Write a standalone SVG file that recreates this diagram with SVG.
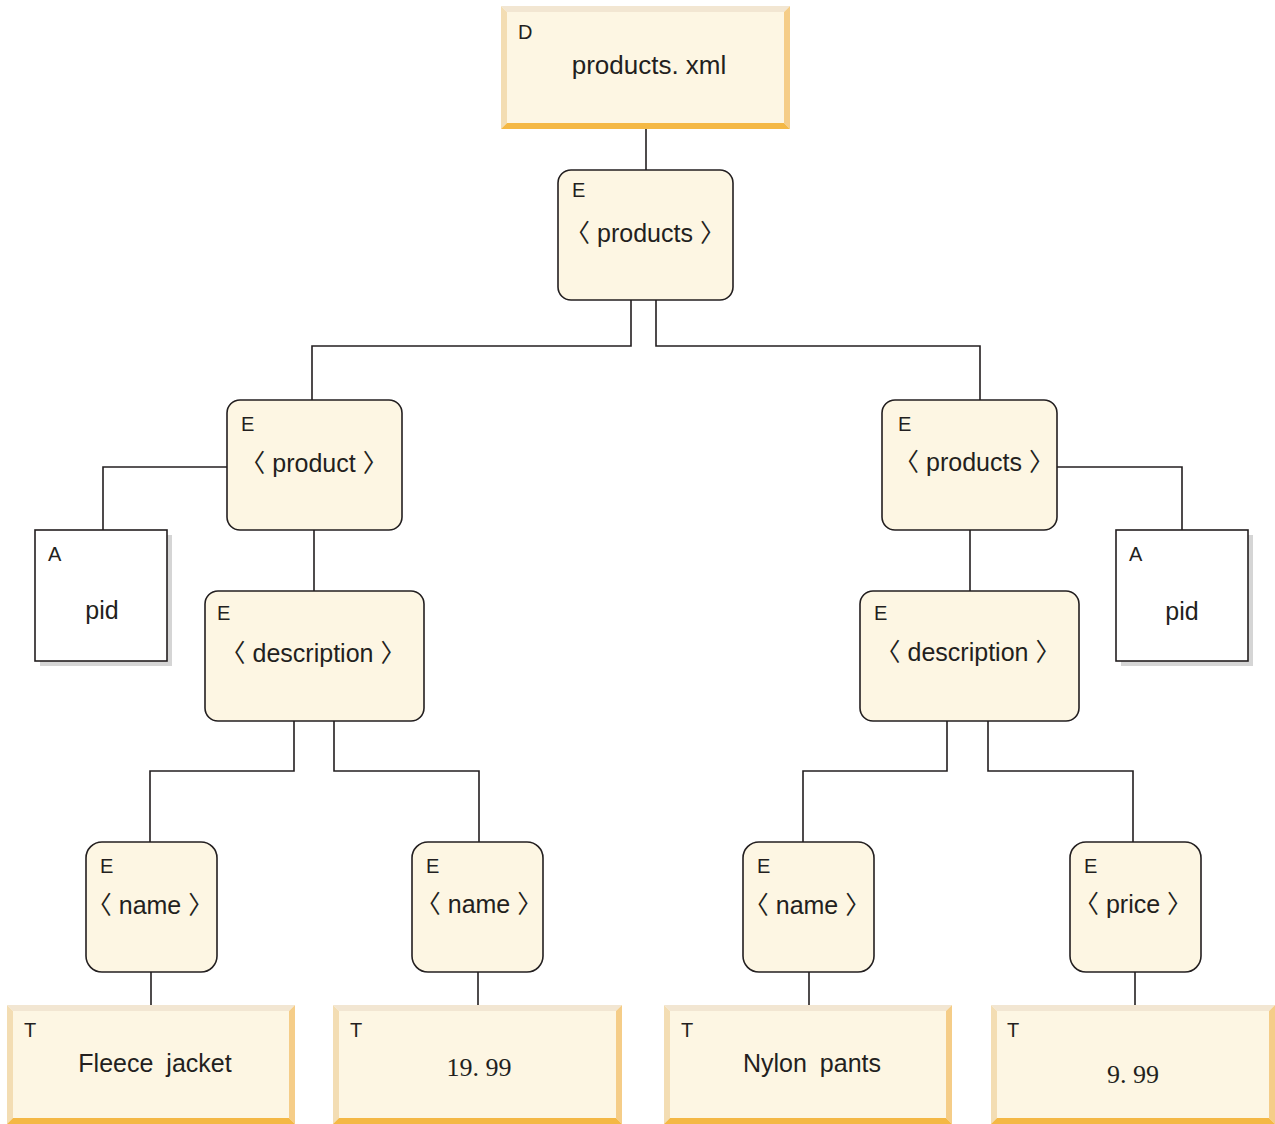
<svg xmlns="http://www.w3.org/2000/svg" width="1275" height="1124" viewBox="0 0 1275 1124">
<style>
.bt{fill:#F2E6D2}.bl{fill:#F3DDB3}.br{fill:#F5CD88}.bb{fill:#F4B845}.in{fill:#FDF6E3}
.e{fill:#FDF6E3;stroke:#231f20;stroke-width:1.6}
.a{fill:#ffffff;stroke:#231f20;stroke-width:1.6}
.sh{fill:#d5d5d5}
.k{font-family:"Liberation Sans",Arial,sans-serif;font-size:20px;fill:#231f20}
.m{font-family:"Liberation Sans",Arial,"Noto Sans CJK SC",sans-serif;font-size:25px;fill:#231f20;text-anchor:middle}
.s{font-family:"Liberation Serif","Times New Roman",serif;font-size:26px;fill:#231f20;text-anchor:middle}
.c{fill:none;stroke:#231f20;stroke-width:1.6}
</style>
<rect width="1275" height="1124" fill="#ffffff"/>
<g id="connectors">
<path class="c" d="M646 129V170"/>
<path class="c" d="M631 300V346H312V400"/>
<path class="c" d="M656 300V346H980V400"/>
<path class="c" d="M227 467H103V530"/>
<path class="c" d="M314 530V591"/>
<path class="c" d="M1057 467H1182V530"/>
<path class="c" d="M970 530V591"/>
<path class="c" d="M294 721V771H150V842"/>
<path class="c" d="M334 721V771H479V842"/>
<path class="c" d="M947 721V771H803V842"/>
<path class="c" d="M988 721V771H1133V842"/>
<path class="c" d="M151 972V1005"/>
<path class="c" d="M478 972V1005"/>
<path class="c" d="M809 972V1005"/>
<path class="c" d="M1135 972V1005"/>
</g>
<g id="doc">
<polygon class="bt" points="501,6 790,6 784,12 507,12"/>
<polygon class="bl" points="501,6 507,12 507,123 501,129"/>
<polygon class="br" points="790,6 790,129 784,123 784,12"/>
<polygon class="bb" points="501,129 790,129 784,123 507,123"/>
<rect class="in" x="507" y="12" width="277" height="111"/>
<text class="k" x="518" y="39">D</text>
<text class="m" x="649" y="74" style="font-size:26px">products. xml</text>
</g>
<g id="e-products">
<rect class="e" x="558" y="170" width="175" height="130" rx="13"/>
<text class="k" x="572" y="197">E</text>
<text class="m" x="645" y="242">〈 products 〉</text>
</g>
<g id="e-product">
<rect class="e" x="227" y="400" width="175" height="130" rx="13"/>
<text class="k" x="241" y="431">E</text>
<text class="m" x="314" y="472">〈 product 〉</text>
</g>
<g id="e-products2">
<rect class="e" x="882" y="400" width="175" height="130" rx="13"/>
<text class="k" x="898" y="431">E</text>
<text class="m" x="974" y="471">〈 products 〉</text>
</g>
<g id="a-pid1">
<rect class="sh" x="40" y="535" width="132" height="131"/>
<rect class="a" x="35" y="530" width="132" height="131"/>
<text class="k" x="48" y="561">A</text>
<text class="m" x="102" y="619">pid</text>
</g>
<g id="a-pid2">
<rect class="sh" x="1121" y="535" width="132" height="131"/>
<rect class="a" x="1116" y="530" width="132" height="131"/>
<text class="k" x="1129" y="561">A</text>
<text class="m" x="1182" y="620">pid</text>
</g>
<g id="e-desc1">
<rect class="e" x="205" y="591" width="219" height="130" rx="13"/>
<text class="k" x="217" y="620">E</text>
<text class="m" x="313" y="662">〈 description 〉</text>
</g>
<g id="e-desc2">
<rect class="e" x="860" y="591" width="219" height="130" rx="13"/>
<text class="k" x="874" y="620">E</text>
<text class="m" x="968" y="661">〈 description 〉</text>
</g>
<g id="e-name1">
<rect class="e" x="86" y="842" width="131" height="130" rx="16"/>
<text class="k" x="100" y="873">E</text>
<text class="m" x="150" y="914">〈 name 〉</text>
</g>
<g id="e-name2">
<rect class="e" x="412" y="842" width="131" height="130" rx="16"/>
<text class="k" x="426" y="873">E</text>
<text class="m" x="479" y="913">〈 name 〉</text>
</g>
<g id="e-name3">
<rect class="e" x="743" y="842" width="131" height="130" rx="16"/>
<text class="k" x="757" y="873">E</text>
<text class="m" x="807" y="914">〈 name 〉</text>
</g>
<g id="e-price">
<rect class="e" x="1070" y="842" width="131" height="130" rx="16"/>
<text class="k" x="1084" y="873">E</text>
<text class="m" x="1133" y="913">〈 price 〉</text>
</g>
<g id="t-fleece">
<polygon class="bt" points="7,1005 295,1005 289,1011 13,1011"/>
<polygon class="bl" points="7,1005 13,1011 13,1118 7,1124"/>
<polygon class="br" points="295,1005 295,1124 289,1118 289,1011"/>
<polygon class="bb" points="7,1124 295,1124 289,1118 13,1118"/>
<rect class="in" x="13" y="1011" width="276" height="107"/>
<text class="k" x="24" y="1037">T</text>
<text class="m" x="155" y="1072" style="word-spacing:6px">Fleece jacket</text>
</g>
<g id="t-1999">
<polygon class="bt" points="333,1005 622,1005 616,1011 339,1011"/>
<polygon class="bl" points="333,1005 339,1011 339,1118 333,1124"/>
<polygon class="br" points="622,1005 622,1124 616,1118 616,1011"/>
<polygon class="bb" points="333,1124 622,1124 616,1118 339,1118"/>
<rect class="in" x="339" y="1011" width="277" height="107"/>
<text class="k" x="350" y="1037">T</text>
<text class="s" x="479" y="1076">19. 99</text>
</g>
<g id="t-nylon">
<polygon class="bt" points="664,1005 952,1005 946,1011 670,1011"/>
<polygon class="bl" points="664,1005 670,1011 670,1118 664,1124"/>
<polygon class="br" points="952,1005 952,1124 946,1118 946,1011"/>
<polygon class="bb" points="664,1124 952,1124 946,1118 670,1118"/>
<rect class="in" x="670" y="1011" width="276" height="107"/>
<text class="k" x="681" y="1037">T</text>
<text class="m" x="812" y="1072" style="word-spacing:6px">Nylon pants</text>
</g>
<g id="t-999">
<polygon class="bt" points="991,1005 1275,1005 1269,1011 997,1011"/>
<polygon class="bl" points="991,1005 997,1011 997,1118 991,1124"/>
<polygon class="br" points="1275,1005 1275,1124 1269,1118 1269,1011"/>
<polygon class="bb" points="991,1124 1275,1124 1269,1118 997,1118"/>
<rect class="in" x="997" y="1011" width="272" height="107"/>
<text class="k" x="1007" y="1037">T</text>
<text class="s" x="1133" y="1083">9. 99</text>
</g>
</svg>
